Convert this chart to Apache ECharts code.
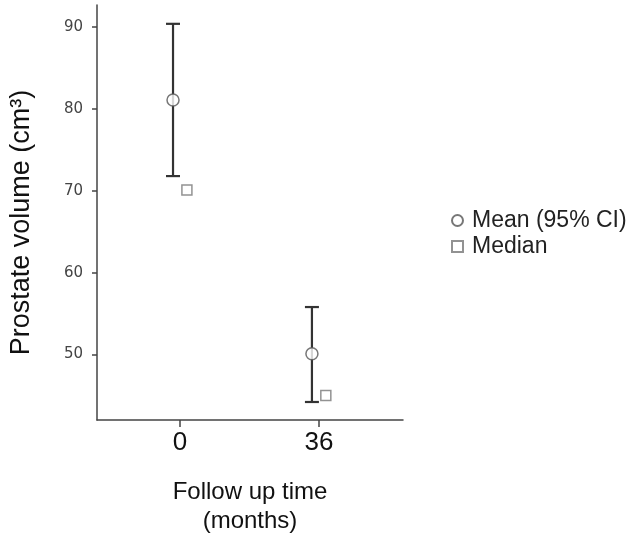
<!DOCTYPE html>
<html>
<head>
<meta charset="utf-8">
<script src="https://cdn.jsdelivr.net/npm/echarts@6/dist/echarts.min.js"></script>
<style>
  html, body { margin: 0; padding: 0; background: #fff; }
  #chart { width: 641px; height: 549px; }
</style>
</head>
<body>
<div id="chart"></div>
<script>
// follow up time (months) and prostate volume readings
const followUp = [0, 36];
const meanVol = [81.1, 50.1];
const ciLow = [71.8, 44.2];
const ciHigh = [90.4, 55.8];
const medianVol = [70.1, 45.0];
const yTicks = [50, 60, 70, 80, 90];

// small horizontal dodge so mean and median don't overlap
const dodge = 1.8;

var chartDom = document.getElementById("chart");
var myChart = echarts.init(chartDom);

var errData = followUp.map(function (t, i) {
  return [t - dodge, ciLow[i], ciHigh[i]];
});
var meanData = followUp.map(function (t, i) {
  return [t - dodge, meanVol[i]];
});
var medianData = followUp.map(function (t, i) {
  return [t + dodge, medianVol[i]];
});

var option = {
  animation: false,
  textStyle: { fontFamily: "Liberation Sans, Arial, sans-serif" },
  grid: { left: 97, right: 238, top: 5, bottom: 129 },
  legend: {
    orient: "vertical",
    left: 446,
    top: 204,
    itemWidth: 11,
    itemHeight: 11,
    itemGap: 3,
    textStyle: { fontSize: 23, color: "#222", padding: [0, 0, 0, 4] },
    data: [
      { name: "Mean (95% CI)", icon: "circle" },
      { name: "Median", icon: "rect" },
    ],
  },
  xAxis: {
    type: "value",
    min: -21.5,
    max: 57.8,
    splitLine: { show: false },
    axisLine: { onZero: false, lineStyle: { color: "#444", width: 1.5 } },
    axisTick: {
      length: 7,
      customValues: followUp,
      lineStyle: { color: "#444", width: 1.5 },
    },
    axisLabel: {
      customValues: followUp,
      fontSize: 26,
      color: "#111",
      margin: 10,
    },
    name: "Follow up time\n(months)",
    nameLocation: "middle",
    nameGap: 58,
    nameTextStyle: { fontSize: 24, color: "#111", lineHeight: 29 },
  },
  yAxis: {
    type: "value",
    min: 42,
    max: 92.7,
    splitLine: { show: false },
    axisLine: { show: true, onZero: false, lineStyle: { color: "#444", width: 1.5 } },
    axisTick: {
      show: true,
      length: 5,
      customValues: yTicks,
      lineStyle: { color: "#444", width: 1.5 },
    },
    axisLabel: {
      customValues: yTicks,
      fontSize: 15,
      fontFamily: "DejaVu Sans",
      color: "#444",
      margin: 14,
    },
    name: "Prostate volume (cm³)",
    nameLocation: "middle",
    nameGap: 62,
    nameTextStyle: { fontSize: 27, color: "#111", padding: [0, 20, 0, 0] },
  },
  series: [
    {
      name: "CI",
      type: "custom",
      data: errData,
      z: 1,
      renderItem: function (params, api) {
        var x = api.value(0);
        var lo = api.coord([x, api.value(1)]);
        var hi = api.coord([x, api.value(2)]);
        var hw = 7;
        var st = { stroke: "#333", lineWidth: 2.2 };
        return {
          type: "group",
          children: [
            { type: "line", shape: { x1: lo[0], y1: lo[1], x2: hi[0], y2: hi[1] }, style: st },
            { type: "line", shape: { x1: hi[0] - hw, y1: hi[1], x2: hi[0] + hw, y2: hi[1] }, style: st },
            { type: "line", shape: { x1: lo[0] - hw, y1: lo[1], x2: lo[0] + hw, y2: lo[1] }, style: st },
          ],
        };
      },
    },
    {
      name: "Mean (95% CI)",
      type: "scatter",
      data: meanData,
      symbol: "circle",
      symbolSize: 12,
      z: 3,
      itemStyle: { color: "#fff", borderColor: "#555", borderWidth: 1.5 },
    },
    {
      name: "Median",
      type: "scatter",
      data: medianData,
      symbol: "rect",
      symbolSize: 10,
      z: 3,
      itemStyle: { color: "#fff", borderColor: "#777", borderWidth: 1.5 },
    },
  ],
};

myChart.setOption(option);
</script>
</body>
</html>
